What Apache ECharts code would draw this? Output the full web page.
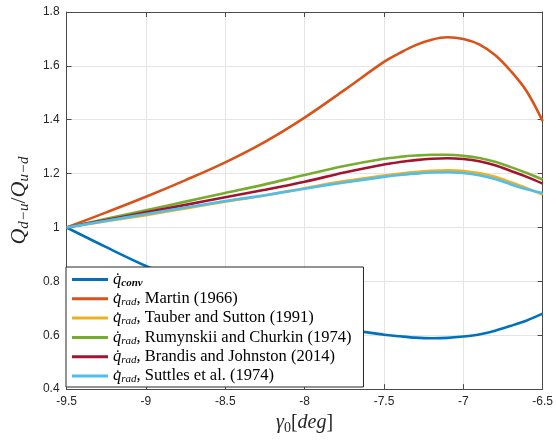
<!DOCTYPE html>
<html>
<head>
<meta charset="utf-8">
<script src="https://cdn.jsdelivr.net/npm/echarts@6/dist/echarts.min.js"></script>
<style>
  html, body { margin: 0; padding: 0; background: #fff; }
  #chart { width: 556px; height: 440px; }
</style>
</head>
<body>
<div id="chart"></div>
<script>
// Initial flight-path angle (deg)
const gamma = [-9.5, -9.25, -9.0, -8.75, -8.5, -8.25, -8.0, -7.75, -7.5, -7.4, -7.3, -7.2, -7.1, -7.0, -6.9, -6.8, -6.7, -6.6, -6.5];

// Heating ratio Q_{d-u}/Q_{u-d} for each model
const qConv     = [1.000, 0.927, 0.857, 0.795, 0.740, 0.693, 0.655, 0.624, 0.602, 0.596, 0.591, 0.589, 0.590, 0.595, 0.603, 0.617, 0.635, 0.655, 0.680];
const qMartin   = [1.000, 1.056, 1.114, 1.176, 1.242, 1.318, 1.408, 1.510, 1.615, 1.648, 1.677, 1.697, 1.706, 1.700, 1.680, 1.640, 1.580, 1.505, 1.395];
const qTauber   = [1.000, 1.023, 1.046, 1.071, 1.096, 1.119, 1.146, 1.172, 1.193, 1.200, 1.206, 1.210, 1.212, 1.210, 1.202, 1.188, 1.168, 1.146, 1.122];
const qRumynskii= [1.000, 1.032, 1.064, 1.096, 1.128, 1.160, 1.195, 1.228, 1.255, 1.262, 1.267, 1.270, 1.270, 1.266, 1.258, 1.244, 1.224, 1.202, 1.178];
const qBrandis  = [1.000, 1.028, 1.056, 1.084, 1.112, 1.140, 1.170, 1.204, 1.234, 1.243, 1.250, 1.255, 1.257, 1.254, 1.246, 1.231, 1.210, 1.188, 1.163];
const qSuttles  = [1.000, 1.025, 1.050, 1.074, 1.098, 1.120, 1.144, 1.167, 1.188, 1.195, 1.200, 1.204, 1.205, 1.202, 1.194, 1.180, 1.160, 1.142, 1.128];

const seriesNames = ['conv', 'Martin (1966)', 'Tauber and Sutton (1991)', 'Rumynskii and Churkin (1974)', 'Brandis and Johnston (2014)', 'Suttles et al. (1974)'];
const seriesValues = [qConv, qMartin, qTauber, qRumynskii, qBrandis, qSuttles];
const seriesColors = ['#0072BD', '#D95319', '#EDB120', '#77AC30', '#A2142F', '#4DBEEE'];

// Axis ticks
const xTicks = [-9.5, -9, -8.5, -8, -7.5, -7, -6.5];
const yTicks = [0.4, 0.6, 0.8, 1.0, 1.2, 1.4, 1.6, 1.8];

const serif = '"Liberation Serif", "DejaVu Serif", serif';
const sans = '"Liberation Sans", Arial, Helvetica, sans-serif';
const axisColor = '#4a4a4a';
const gridColor = '#e4e4e4';

const xStep = xTicks[1] - xTicks[0];
const yStep = +(yTicks[1] - yTicks[0]).toFixed(6);

function baseX(extra) {
  return Object.assign({
    type: 'value',
    min: xTicks[0], max: xTicks[xTicks.length - 1], interval: xStep,
    axisLine: { show: true, onZero: false, lineStyle: { color: axisColor, width: 1 } },
    axisTick: { show: true, inside: true, length: 5, lineStyle: { color: axisColor } },
    splitLine: { show: false },
    axisLabel: { show: false }
  }, extra);
}
function baseY(extra) {
  return Object.assign({
    type: 'value',
    min: yTicks[0], max: yTicks[yTicks.length - 1], interval: yStep,
    axisLine: { show: true, onZero: false, lineStyle: { color: axisColor, width: 1 } },
    axisTick: { show: true, inside: true, length: 5, lineStyle: { color: axisColor } },
    splitLine: { show: false },
    axisLabel: { show: false }
  }, extra);
}

const chart = echarts.init(document.getElementById('chart'), null, { renderer: 'canvas' });

const option = {
  animation: false,
  backgroundColor: '#ffffff',
  grid: { left: 62, right: 11, top: 12, bottom: 47, containLabel: false },
  xAxis: [
    baseX({
      position: 'bottom',
      splitLine: { show: true, lineStyle: { color: gridColor, width: 1 } },
      axisLabel: { show: true, color: '#262626', fontFamily: sans, fontSize: 12, margin: 7 },
      name: '{i|γ}{s|0}{r|[}{i|deg}{r|]}',
      nameLocation: 'middle',
      nameGap: 20,
      nameTextStyle: {
        rich: {
          i: { fontFamily: serif, fontStyle: 'italic', fontSize: 20, lineHeight: 24, color: '#262626' },
          r: { fontFamily: serif, fontSize: 20, lineHeight: 24, color: '#262626' },
          s: { fontFamily: serif, fontSize: 14, lineHeight: 14, verticalAlign: 'bottom', color: '#262626' }
        }
      }
    }),
    baseX({ position: 'top' })
  ],
  yAxis: [
    baseY({
      position: 'left',
      splitLine: { show: true, lineStyle: { color: gridColor, width: 1 } },
      axisLabel: { show: true, color: '#262626', fontFamily: sans, fontSize: 12, margin: 7 },
      name: '{i|Q}{s|d−u}{r|/}{i|Q}{s|u−d}',
      nameLocation: 'middle',
      nameGap: 23,
      nameRotate: 90,
      nameTextStyle: {
        rich: {
          i: { fontFamily: serif, fontStyle: 'italic', fontSize: 22, lineHeight: 26, color: '#262626' },
          r: { fontFamily: serif, fontSize: 22, lineHeight: 26, color: '#262626' },
          s: { fontFamily: serif, fontStyle: 'italic', fontSize: 15, lineHeight: 15, verticalAlign: 'bottom', color: '#262626' }
        }
      }
    }),
    baseY({ position: 'right' })
  ],
  legend: {
    orient: 'vertical',
    left: 66,
    top: 267,
    padding: [4, 12, 2, 6],
    itemGap: 1.8,
    itemWidth: 36,
    itemHeight: 3,
    icon: 'rect',
    backgroundColor: '#ffffff',
    borderColor: '#262626',
    borderWidth: 1,
    borderRadius: 0,
    data: seriesNames,
    formatter: function (name) {
      if (name === 'conv') return '{q|q̇}{b|conv}';
      return '{q|q̇}{s|rad}{t|, ' + name + '}';
    },
    textStyle: {
      padding: [0, 0, 0, 0],
      rich: {
        q: { fontFamily: serif, fontStyle: 'italic', fontSize: 16.5, lineHeight: 18, color: '#000' },
        s: { fontFamily: serif, fontStyle: 'italic', fontSize: 11, lineHeight: 11, verticalAlign: 'bottom', color: '#000' },
        b: { fontFamily: serif, fontStyle: 'italic', fontWeight: 'bold', fontSize: 11, lineHeight: 11, verticalAlign: 'bottom', color: '#000' },
        t: { fontFamily: serif, fontSize: 16.5, lineHeight: 18, color: '#000' }
      }
    }
  },
  series: seriesNames.map(function (name, k) {
    return {
      name: name,
      type: 'line',
      xAxisIndex: 0,
      yAxisIndex: 0,
      data: gamma.map(function (g, i) { return [g, seriesValues[k][i]]; }),
      showSymbol: false,
      symbol: 'none',
      smooth: 0.35,
      color: seriesColors[k],
      lineStyle: { color: seriesColors[k], width: 2.6 },
      z: 2 + k * 0.01
    };
  })
};

chart.setOption(option);
</script>
</body>
</html>
